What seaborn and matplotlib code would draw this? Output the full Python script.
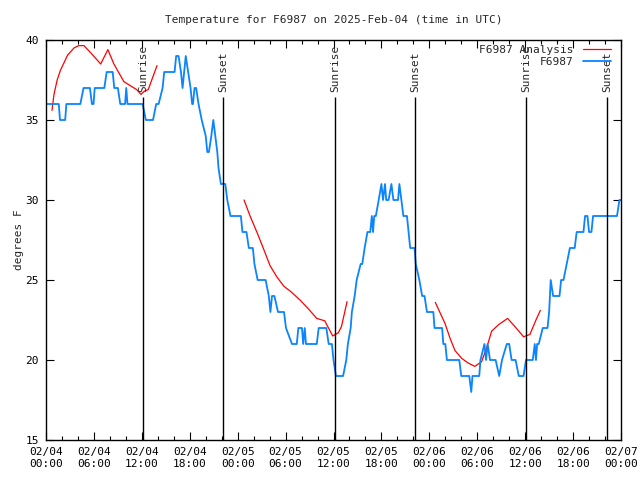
import pandas as pd
import seaborn as sns
import matplotlib.pyplot as plt
import matplotlib.dates as mdates
from matplotlib.lines import Line2D

# hours after 2025-02-04 00:00 UTC, observed temperature (deg F)
obs_hours = [0.0, 1.6, 1.75, 2.4, 2.55, 4.3, 4.7, 5.5, 5.75, 5.95, 6.1, 7.3, 7.6, 8.35,
             8.55, 9.0, 9.3, 9.9, 10.05, 10.2, 12.1, 12.5, 13.4, 13.8, 14.1, 14.6, 14.8,
             16.1, 16.3, 16.6, 16.9, 17.1, 17.3, 17.5, 17.8, 18.1, 18.3, 18.4, 18.6, 18.8,
             19.1, 19.5, 20.0, 20.2, 20.4, 20.7, 20.95, 21.2, 21.45, 21.6, 21.9, 22.45,
             22.7, 23.1, 24.4, 24.6, 25.1, 25.4, 25.9, 26.1, 26.5, 27.5, 27.9, 28.1, 28.3,
             28.6, 29.05, 29.8, 30.05, 30.8, 31.4, 31.6, 32.05, 32.2, 32.4, 32.55, 33.9,
             34.15, 35.1, 35.4, 35.8, 36.0, 36.3, 37.2, 37.6, 37.8, 38.15, 38.3, 38.65,
             38.9, 39.4, 39.6, 39.9, 40.25, 40.6, 40.8, 40.95, 41.1, 41.3, 41.66, 42.0,
             42.2, 42.45, 42.6, 42.9, 43.25, 43.5, 44.08, 44.25, 44.5, 44.75, 45.2, 45.4,
             45.6, 46.15, 46.3, 46.75, 47.1, 47.4, 47.7, 48.5, 48.65, 49.6, 49.75, 50.0,
             50.2, 51.75, 52.0, 53.0, 53.25, 53.4, 54.25, 54.4, 54.9, 55.1, 55.3, 55.6,
             56.3, 56.75, 57.1, 57.7, 58.0, 58.3, 58.8, 59.2, 59.8, 60.1, 60.95, 61.2,
             61.35, 61.5, 61.7, 62.2, 62.8, 63.0, 63.2, 63.5, 64.3, 64.5, 64.8, 65.2,
             65.6, 66.2, 66.45, 67.3, 67.5, 67.8, 68.0, 68.3, 68.5, 71.5, 71.8, 72.0]
obs_temps = [36, 36, 35, 35, 36, 36, 37, 37, 36, 36, 37, 37, 38, 38,
             37, 37, 36, 36, 37, 36, 36, 35, 35, 36, 36, 37, 38,
             38, 39, 39, 38, 37, 38, 39, 38, 37, 36, 36, 37, 37,
             36, 35, 34, 33, 33, 34, 35, 34, 33, 32, 31, 31,
             30, 29, 29, 28, 28, 27, 27, 26, 25, 25, 24, 23, 24,
             24, 23, 23, 22, 21, 21, 22, 22, 21, 22, 21, 21,
             22, 22, 21, 21, 20, 19, 19, 20, 21, 22, 23, 24,
             25, 26, 26, 27, 28, 28, 29, 28, 29, 29, 30, 31,
             30, 31, 30, 30, 31, 30, 30, 31, 30, 29, 29, 28,
             27, 27, 26, 25, 24, 24, 23, 23, 22, 22, 21, 21,
             20, 20, 19, 19, 18, 19, 19, 20, 21, 20, 21, 20,
             20, 19, 20, 21, 21, 20, 20, 19, 19, 20, 20, 21,
             20, 21, 21, 22, 22, 23, 25, 24, 24, 25, 25, 26,
             27, 27, 28, 28, 29, 29, 28, 28, 29, 29, 30, 30]

# analysis runs (three separate segments)
ana_seg = [1] * 19 + [2] * 16 + [3] * 18
ana_hours = [0.75, 1.0, 1.4, 1.8, 2.7, 3.5, 4.1, 4.75, 5.6, 6.85, 7.75, 8.5, 9.75, 10.7,
             11.35, 11.9, 12.3, 12.8, 13.9,
             24.8, 25.55, 26.4, 27.2, 28.05, 28.9, 29.8, 30.6, 31.8, 32.85, 33.9, 34.9,
             35.9, 36.6, 37.0, 37.7,
             48.75, 49.3, 49.95, 50.6, 51.2, 52.05, 52.9, 53.7, 54.55, 55.2, 55.8, 56.65,
             57.8, 58.7, 59.8, 60.6, 61.35, 61.9]
ana_temps = [35.6, 36.6, 37.5, 38.1, 39.05, 39.5, 39.65, 39.65, 39.2, 38.5, 39.4, 38.5,
             37.4, 37.1, 36.9, 36.6, 36.8, 36.9, 38.4,
             30.0, 29.0, 28.0, 27.0, 25.9, 25.2, 24.6, 24.3, 23.75, 23.2, 22.6, 22.45,
             21.5, 21.7, 22.1, 23.65,
             23.6, 23.0, 22.3, 21.35, 20.6, 20.1, 19.8, 19.6, 19.9, 20.8, 21.8, 22.2,
             22.6, 22.1, 21.45, 21.6, 22.5, 23.1]

sun_hours = [12.15, 22.15, 36.2, 46.2, 60.1, 70.25]
sun_labels = ['Sunrise', 'Sunset', 'Sunrise', 'Sunset', 'Sunrise', 'Sunset']

start = pd.Timestamp('2025-02-04 00:00')
obs = pd.DataFrame({'time': start + pd.to_timedelta(obs_hours, unit='h'), 'temp': obs_temps})
ana = pd.DataFrame({'time': start + pd.to_timedelta(ana_hours, unit='h'),
                    'temp': ana_temps, 'seg': ana_seg})
sun_times = start + pd.to_timedelta(sun_hours, unit='h')

sns.set_style('ticks')
plt.rcParams['font.family'] = ['DejaVu Sans Mono']
plt.rcParams['font.size'] = 8

fig = plt.figure(figsize=(6.4, 4.8), dpi=100)
ax = fig.add_axes([46 / 640, 40 / 480, 575 / 640, 400 / 480])

red = '#ff0000'
blue = '#0a84ff'
sns.lineplot(data=ana, x='time', y='temp', units='seg', estimator=None,
             color=red, linewidth=0.9, ax=ax)
sns.lineplot(data=obs, x='time', y='temp', color=blue, linewidth=1.3, ax=ax)

for t, lab in zip(sun_times, sun_labels):
    ax.vlines(t, 15, 36.45, color='black', linewidth=1)
    ax.text(t, 36.75, lab, rotation=90, ha='center', va='bottom', fontsize=8)

ax.set_xlim(start, start + pd.Timedelta(hours=72))
ax.set_ylim(15, 40)
ax.set_yticks(range(15, 41, 5))
ax.xaxis.set_major_locator(mdates.HourLocator(byhour=[0, 6, 12, 18]))
ax.xaxis.set_minor_locator(mdates.HourLocator(interval=2))
ax.xaxis.set_major_formatter(mdates.DateFormatter('%m/%d\n%H:%M'))
ax.tick_params(which='both', direction='in', top=True, right=True, colors='black')
ax.tick_params(which='major', length=6, width=0.8, pad=5)
ax.tick_params(which='minor', length=3, width=0.8)
for s in ax.spines.values():
    s.set_linewidth(1)
    s.set_color('black')

ax.set_xlabel('')
ax.set_ylabel('degrees F', labelpad=1)
ax.set_title('Temperature for F6987 on 2025-Feb-04 (time in UTC)', fontsize=8, pad=12)

handles = [Line2D([], [], color=red, linewidth=0.9), Line2D([], [], color=blue, linewidth=1.3)]
ax.legend(handles, ['F6987 Analysis', 'F6987'], loc='upper right', frameon=False,
          markerfirst=False, handlelength=2.6, labelspacing=0.15,
          bbox_to_anchor=(0.997, 1.007), borderpad=0.2)

fig.savefig('out.png', dpi=100)
